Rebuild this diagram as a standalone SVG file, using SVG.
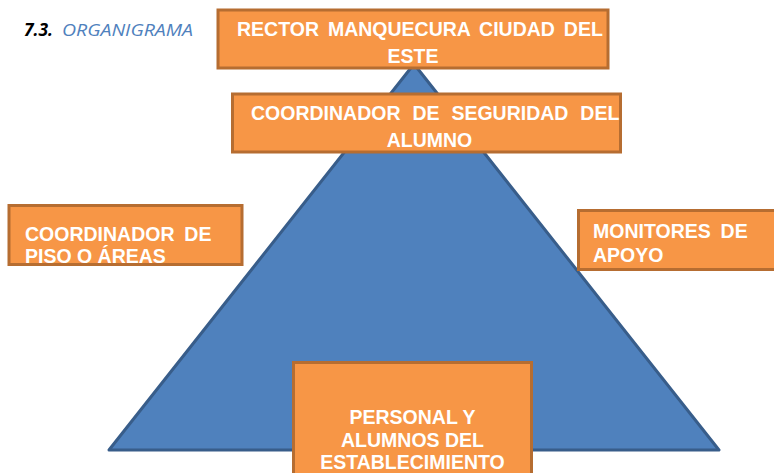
<svg xmlns="http://www.w3.org/2000/svg" width="774" height="473" viewBox="0 0 774 473">
  <style>
    .box { fill: #F79646; stroke: #B66D31; stroke-width: 3; }
    .tri { fill: #4F81BD; stroke: #385D8A; stroke-width: 3; stroke-linejoin: round; }
    .lbl { font-family: "Liberation Sans", Arial, sans-serif; font-weight: bold; font-size: 19.5px; fill: #FFFFFF; }
    .mid { text-anchor: middle; }
    .head { font-family: "Open Sans", "Liberation Sans", sans-serif; font-style: italic; font-size: 17px; }
  </style>
  <rect x="0" y="0" width="774" height="473" fill="#FFFFFF"/>
  <g id="heading">
    <text class="head" x="24" y="36" font-weight="bold" fill="#000000" textLength="29" lengthAdjust="spacingAndGlyphs">7.3.</text>
    <text class="head" x="62" y="36" fill="#4F81BD" textLength="131" lengthAdjust="spacingAndGlyphs">ORGANIGRAMA</text>
  </g>
  <g id="pyramid">
    <polygon class="tri" points="414,64 719,450 109,450"/>
  </g>
  <g id="connectors"></g>
  <g id="rector">
    <rect class="box" x="218" y="10" width="390" height="58"/>
    <text class="lbl" x="237" y="36" word-spacing="3.5">RECTOR MANQUECURA CIUDAD DEL</text>
    <text class="lbl mid" x="413" y="63">ESTE</text>
  </g>
  <g id="coordinador-seguridad">
    <rect class="box" x="232.5" y="94" width="388" height="58"/>
    <text class="lbl" x="251" y="120" word-spacing="6.5">COORDINADOR DE SEGURIDAD DEL</text>
    <text class="lbl mid" x="429.5" y="146.5">ALUMNO</text>
  </g>
  <g id="coordinador-piso">
    <rect class="box" x="9" y="205.5" width="233" height="59"/>
    <text class="lbl" x="25" y="241" word-spacing="4.4">COORDINADOR DE</text>
    <text class="lbl" x="25" y="263">PISO O ÁREAS</text>
  </g>
  <g id="monitores">
    <rect class="box" x="578.5" y="210.5" width="200" height="59"/>
    <text class="lbl" x="593" y="238" word-spacing="4.4">MONITORES DE</text>
    <text class="lbl" x="593" y="262">APOYO</text>
  </g>
  <g id="personal">
    <rect class="box" x="293.5" y="362.5" width="238" height="120"/>
    <text class="lbl mid" x="412.5" y="424">PERSONAL Y</text>
    <text class="lbl mid" x="412.5" y="447">ALUMNOS DEL</text>
    <text class="lbl mid" x="412.5" y="469">ESTABLECIMIENTO</text>
  </g>
</svg>
